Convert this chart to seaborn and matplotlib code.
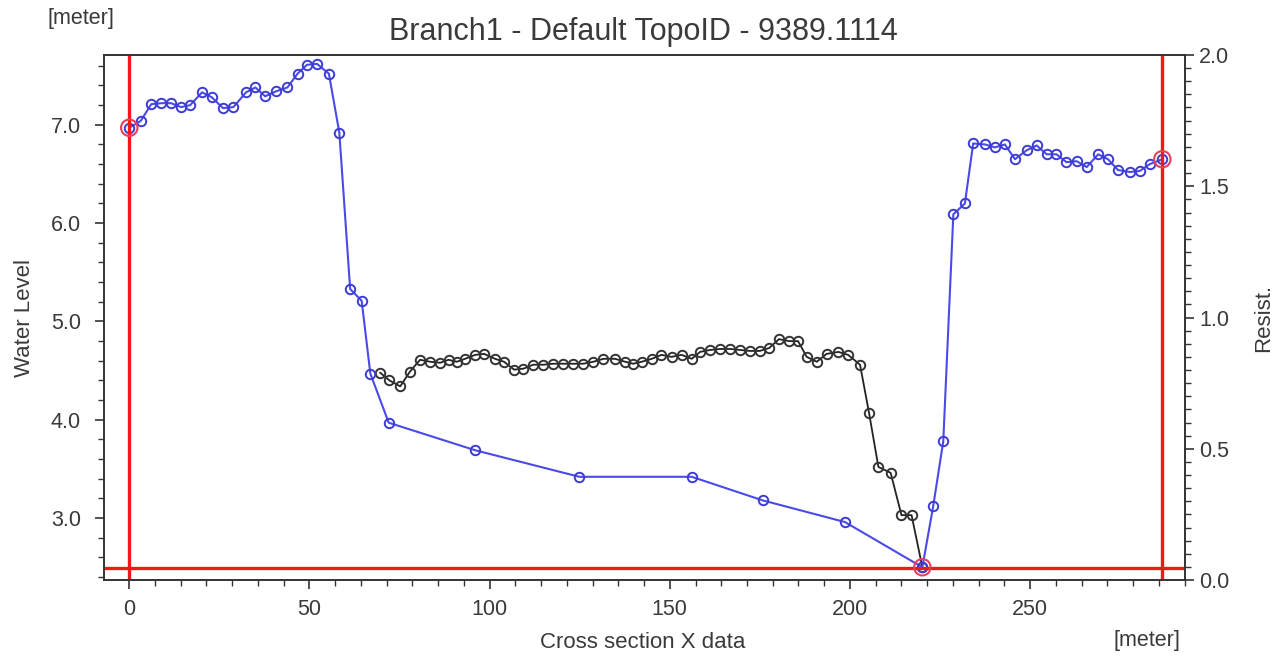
import matplotlib
matplotlib.use("Agg")
import matplotlib.pyplot as plt
from matplotlib.ticker import MultipleLocator, AutoMinorLocator, FormatStrFormatter
import seaborn as sns
import pandas as pd

# ---- data ----
blue_x = [0.0, 3.2, 6.1, 8.9, 11.6, 14.4, 16.9, 20.2, 22.9, 26.0,
          28.9, 32.4, 35.0, 37.7, 40.7, 43.9, 46.7, 49.3, 52.1, 55.4,
          58.3, 61.3, 64.5, 66.9, 72.0, 96.0, 124.9, 156.1, 175.8, 198.6,
          220.1, 223.1, 225.9, 228.7, 231.9, 234.2, 237.5, 240.2, 243.0, 245.8,
          249.0, 251.8, 254.6, 257.3, 260.1, 262.9, 265.7, 268.9, 271.6, 274.4,
          277.7, 280.4, 283.2, 286.7]
blue_y = [6.97, 7.04, 7.21, 7.22, 7.22, 7.18, 7.20, 7.33, 7.28, 7.17,
          7.18, 7.33, 7.38, 7.29, 7.34, 7.38, 7.52, 7.61, 7.62, 7.52,
          6.92, 5.33, 5.21, 4.47, 3.97, 3.69, 3.42, 3.42, 3.18, 2.96,
          2.50, 3.12, 3.78, 6.09, 6.20, 6.81, 6.80, 6.77, 6.80, 6.65,
          6.74, 6.79, 6.70, 6.70, 6.62, 6.63, 6.57, 6.70, 6.65, 6.54,
          6.52, 6.53, 6.60, 6.65]

black_x = [69.6, 72.2, 75.2, 77.9, 80.7, 83.5, 86.3, 88.6, 90.9, 93.2,
           96.0, 98.5, 101.5, 104.0, 106.8, 109.4, 112.1, 114.9, 117.7, 120.5,
           123.2, 126.0, 128.8, 131.6, 134.8, 137.6, 139.9, 142.2, 145.0, 147.7,
           150.5, 153.3, 156.1, 158.4, 161.2, 164.0, 166.8, 169.5, 172.2, 175.0,
           177.6, 180.3, 183.1, 185.6, 188.0, 190.8, 193.5, 196.8, 199.5, 202.8,
           205.3, 207.9, 211.3, 214.3, 217.1, 220.1]
black_y = [4.48, 4.40, 4.34, 4.49, 4.61, 4.59, 4.58, 4.61, 4.59, 4.62,
           4.66, 4.67, 4.62, 4.59, 4.51, 4.52, 4.56, 4.56, 4.57, 4.57,
           4.57, 4.57, 4.59, 4.62, 4.62, 4.59, 4.57, 4.59, 4.62, 4.66,
           4.64, 4.66, 4.62, 4.69, 4.71, 4.72, 4.72, 4.71, 4.70, 4.70,
           4.73, 4.82, 4.80, 4.80, 4.64, 4.59, 4.67, 4.69, 4.66, 4.56,
           4.07, 3.52, 3.46, 3.03, 3.03, 2.50]

marker_x = [0.0, 220.1, 286.7]
marker_y = [6.97, 2.50, 6.65]
red_vlines = [0.0, 286.7]
red_hline = 2.49

title = "Branch1 - Default TopoID - 9389.1114"
x_label = "Cross section X data"
y_label = "Water Level"
y2_label = "Resist."
unit = "[meter]"
x_ticks = [0, 50, 100, 150, 200, 250]
y_ticks = [3.0, 4.0, 5.0, 6.0, 7.0]
y2_ticks = [0.0, 0.5, 1.0, 1.5, 2.0]

# ---- style ----
sns.set_theme(style="white")
plt.rcParams["font.family"] = ["Liberation Sans", "DejaVu Sans"]
plt.rcParams["axes.edgecolor"] = "#333333"
plt.rcParams["axes.linewidth"] = 1.2

TXT = "#3a3a3a"
fig = plt.figure(figsize=(12.86, 6.61), dpi=100)
ax = fig.add_axes([0.0809, 0.1225, 0.8406, 0.7943])

df_black = pd.DataFrame({"x": black_x, "y": black_y})
df_blue = pd.DataFrame({"x": blue_x, "y": blue_y})
df_mark = pd.DataFrame({"x": marker_x, "y": marker_y})

sns.lineplot(data=df_black, x="x", y="y", ax=ax, sort=False, estimator=None,
             color="#222222", linewidth=1.3, marker="o", markersize=6.8,
             markerfacecolor="none", markeredgecolor="#333333",
             markeredgewidth=1.4, zorder=3)
sns.lineplot(data=df_blue, x="x", y="y", ax=ax, sort=False, estimator=None,
             color="#4a4ae8", linewidth=1.5, marker="o", markersize=6.8,
             markerfacecolor="none", markeredgecolor="#3c3cd4",
             markeredgewidth=1.4, zorder=4)

for xv in red_vlines:
    ax.axvline(xv, color="#F01818", linewidth=2.4, zorder=5)
ax.axhline(red_hline, color="#F01818", linewidth=2.4, zorder=5)

sns.scatterplot(data=df_mark, x="x", y="y", ax=ax, s=140, facecolor="none",
                edgecolor="#E8405A", linewidth=1.5, zorder=6)

ax.set_xlim(-7, 293)
ax.set_ylim(2.37, 7.71)
ax.set_xticks(x_ticks)
ax.set_yticks(y_ticks)
ax.yaxis.set_major_formatter(FormatStrFormatter("%.1f"))
ax.xaxis.set_minor_locator(AutoMinorLocator(7))
ax.yaxis.set_minor_locator(MultipleLocator(0.2))
ax.tick_params(axis="both", which="major", direction="out", length=6.5,
               width=1.2, color="#333333", labelsize=15.5, labelcolor=TXT,
               left=True, bottom=True)
ax.tick_params(axis="y", which="major", pad=10)
ax.tick_params(axis="x", which="major", pad=7)
ax.tick_params(axis="both", which="minor", direction="out", length=4,
               width=1.0, color="#333333", left=True, bottom=True)
ax.set_xlabel(x_label, fontsize=16, color=TXT)
ax.set_ylabel(y_label, fontsize=16, color=TXT)
ax.xaxis.set_label_coords(0.498, -0.099)
ax.yaxis.set_label_coords(-0.064, 0.5)
ax.grid(False)

ax2 = ax.twinx()
ax2.set_ylim(0.0, 2.0)
ax2.set_yticks(y2_ticks)
ax2.yaxis.set_major_formatter(FormatStrFormatter("%.1f"))
ax2.yaxis.set_minor_locator(MultipleLocator(0.05))
ax2.tick_params(axis="y", which="major", direction="out", length=6.5, width=1.2,
                color="#333333", labelsize=15.5, labelcolor=TXT, right=True)
ax2.tick_params(axis="y", which="minor", direction="out", length=4, width=1.0,
                color="#333333", right=True)
ax2.set_ylabel(y2_label, fontsize=16, color=TXT)
ax2.yaxis.set_label_coords(1.063, 0.5)
ax2.grid(False)

fig.text(0.5, 0.952, title, ha="center", va="center", fontsize=22,
         color=TXT)
fig.text(0.063, 0.972, unit, ha="center", va="center", fontsize=15.5,
         color=TXT)
fig.text(0.892, 0.031, unit, ha="center", va="center", fontsize=15.5,
         color=TXT)

fig.savefig("out.png", dpi=100)
